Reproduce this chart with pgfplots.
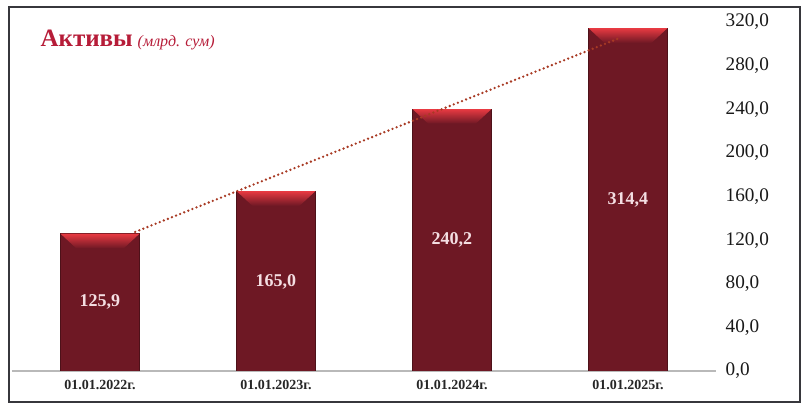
\documentclass[border=0pt]{standalone}
\usepackage{pgfplots}
\pgfplotsset{compat=1.18}
\usepackage{fontspec}
\setmainfont{Liberation Serif}
\definecolor{barred}{RGB}{110,24,36}
\definecolor{bevel}{RGB}{232,58,66}
\definecolor{titlered}{RGB}{182,28,56}
\definecolor{trend}{RGB}{168,58,36}
\definecolor{framec}{RGB}{55,55,60}
\definecolor{labelc}{RGB}{244,222,226}
\begin{document}
\begin{tikzpicture}
\useasboundingbox (-6pt,-17pt) rectangle (396pt,185.5pt);
\draw[framec, line width=1.3pt] (-1.5pt,-15.5pt) rectangle (394pt,182pt);
\begin{axis}[
  at={(0,0)}, anchor=south west,
  scale only axis, width=352pt, height=174.5pt,
  xmin=-0.5, xmax=3.5, ymin=0, ymax=320,
  axis y line*=right, axis x line*=bottom,
  y axis line style={draw=none},
  x axis line style={-, gray!55, line width=0.8pt},
  xtick={0,1,2,3},
  xticklabels={01.01.2022г., 01.01.2023г., 01.01.2024г., 01.01.2025г.},
  ytick={0,40,...,320},
  major tick length=0pt,
  yticklabel style={font=\fontsize{9.6}{10}\selectfont, text=black!90, anchor=west, xshift=1.3pt},
  xticklabel style={font=\bfseries\fontsize{7}{8}\selectfont, text=black!85, yshift=-1pt},
  /pgf/number format/.cd, fixed, fixed zerofill, precision=1, use comma, assume math mode=true,
]
% bars
\addplot[ybar, bar width=39.5pt, bar shift=0pt, fill=barred, draw=barred!70!black, mark=none]
  coordinates {(0,125.9) (1,165.0) (2,240.2) (3,314.4)};
% bevelled tops
\addplot[draw=none, top color=bevel, bottom color=barred, mark=none]
  coordinates {(-0.2244,125.9) (0.2244,125.9) (0.1344,112.4) (-0.1344,112.4)} -- cycle;
\addplot[draw=none, top color=bevel, bottom color=barred, mark=none]
  coordinates {(0.7756,165.0) (1.2244,165.0) (1.1344,151.5) (0.8656,151.5)} -- cycle;
\addplot[draw=none, top color=bevel, bottom color=barred, mark=none]
  coordinates {(1.7756,240.2) (2.2244,240.2) (2.1344,226.7) (1.8656,226.7)} -- cycle;
\addplot[draw=none, top color=bevel, bottom color=barred, mark=none]
  coordinates {(2.7756,314.4) (3.2244,314.4) (3.1344,300.9) (2.8656,300.9)} -- cycle;
% trend line
\addplot[trend, line width=1.3pt, line cap=round, dash pattern=on 0pt off 2.2pt, mark=none]
  coordinates {(0.2,127.5) (2.955,305.5)};
% value labels
\addplot[draw=none, mark=none, nodes near coords, point meta=explicit symbolic,
  every node near coord/.append style={anchor=center, text=labelc, font=\bfseries\fontsize{9}{10}\selectfont}]
  coordinates {(0,63)[125,9] (1,82)[165,0] (2,120)[240,2] (3,157)[314,4]};
\node[anchor=west, inner sep=0pt] at (rel axis cs:0.04,0.948)
  {\textcolor{titlered}{\fontsize{12.5}{14}\selectfont\bfseries Активы}\ \textcolor{titlered}{\fontsize{8}{9}\selectfont\itshape (млрд. сум)}};
\end{axis}
\end{tikzpicture}
\end{document}
